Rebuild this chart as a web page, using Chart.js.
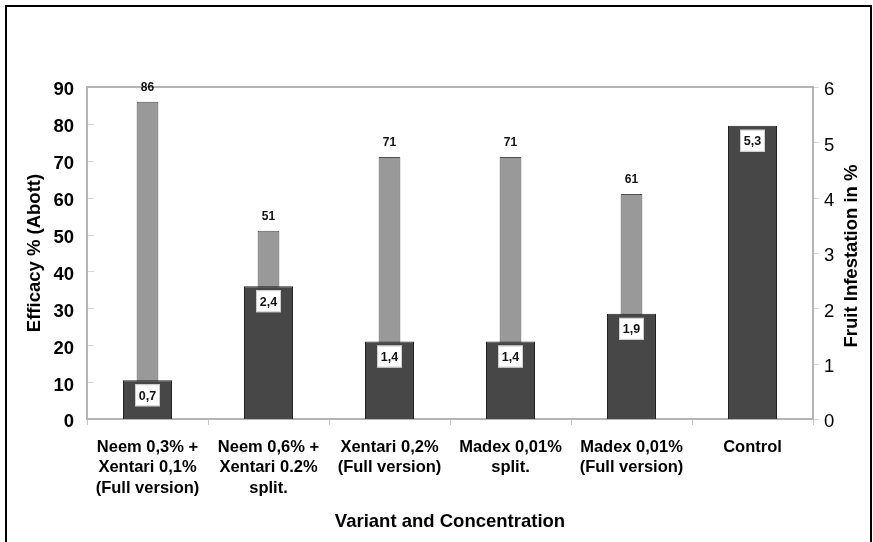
<!DOCTYPE html>
<html>
<head>
<meta charset="utf-8">
<script src="https://cdn.jsdelivr.net/npm/chart.js@4/dist/chart.umd.min.js"></script>
<style>
  html, body { margin: 0; padding: 0; background: #fff; }
  #wrap { position: relative; width: 873px; height: 542px; }
  canvas { display: block; }
</style>
</head>
<body>
<div id="wrap"><canvas id="c" width="873" height="542"></canvas></div>
<script>
// ---- data ----
const categories = [
  ["Neem 0,3% +", "Xentari 0,1%", "(Full version)"],
  ["Neem 0,6% +", "Xentari 0.2%", "split."],
  ["Xentari 0,2%", "(Full version)"],
  ["Madex 0,01%", "split."],
  ["Madex 0,01%", "(Full version)"],
  ["Control"]
];
const efficacy = [86, 51, 71, 71, 61, null];          // left axis, %
const infestation = [0.7, 2.4, 1.4, 1.4, 1.9, 5.3];   // right axis, %
const leftTicks = [0, 10, 20, 30, 40, 50, 60, 70, 80, 90];
const rightTicks = [0, 1, 2, 3, 4, 5, 6];
const xTitle = "Variant and Concentration";
const leftTitle = "Efficacy % (Abott)";
const rightTitle = "Fruit Infestation in %";

const FONT = "'Liberation Sans', Arial, Helvetica, sans-serif";

const decor = {
  id: 'decor',
  beforeDraw(chart) {
    const ctx = chart.ctx;
    ctx.save();
    ctx.fillStyle = '#fff';
    ctx.fillRect(0, 0, chart.width, chart.height);
    // outer frame
    ctx.strokeStyle = '#000';
    ctx.lineWidth = 2;
    ctx.beginPath();
    ctx.moveTo(6, 542);
    ctx.lineTo(6, 6);
    ctx.lineTo(871, 6);
    ctx.lineTo(871, 542);
    ctx.stroke();
    ctx.restore();
  },
  beforeDatasetsDraw(chart) {
    const ctx = chart.ctx, a = chart.chartArea;
    ctx.save();
    // faint tick marks
    ctx.strokeStyle = '#d8d8d8';
    ctx.lineWidth = 1;
    const ys = chart.scales.y, y1 = chart.scales.y1;
    ys.ticks.forEach(t => {
      const p = Math.round(ys.getPixelForValue(t.value)) + 0.5;
      ctx.beginPath(); ctx.moveTo(a.left, p); ctx.lineTo(a.left + 7, p); ctx.stroke();
    });
    y1.ticks.forEach(t => {
      const p = Math.round(y1.getPixelForValue(t.value)) + 0.5;
      ctx.beginPath(); ctx.moveTo(a.right, p); ctx.lineTo(a.right + 6, p); ctx.stroke();
    });
    // plot frame
    ctx.strokeStyle = '#b4b4b4';
    ctx.lineWidth = 2;
    ctx.strokeRect(a.left, a.top, a.right - a.left, a.bottom - a.top);
    ctx.restore();
  },
  afterDatasetsDraw(chart) {
    const ctx = chart.ctx;
    ctx.save();
    ctx.textAlign = 'center';
    ctx.textBaseline = 'middle';
    // efficacy labels above light bars
    const mL = chart.getDatasetMeta(1);
    mL.data.forEach((bar, i) => {
      const v = efficacy[i];
      if (v === null || v === undefined) return;
      ctx.fillStyle = '#111';
      ctx.font = "bold 12px " + FONT;
      ctx.fillText(String(v), bar.x, bar.y - 14);
    });
    // infestation labels in white boxes
    const mD = chart.getDatasetMeta(0);
    mD.data.forEach((bar, i) => {
      const v = infestation[i];
      const txt = String(v).replace('.', ',');
      const w = 25, h = 22;
      const top = bar.y + 4;
      ctx.fillStyle = '#fff';
      ctx.fillRect(bar.x - w / 2, top, w, h);
      ctx.strokeStyle = '#cfcfcf';
      ctx.lineWidth = 1;
      ctx.strokeRect(bar.x - w / 2 + 0.5, top + 0.5, w - 1, h - 1);
      ctx.fillStyle = '#111';
      ctx.font = "bold 12.5px " + FONT;
      ctx.fillText(txt, bar.x, top + h / 2 + 1);
    });
    ctx.restore();
  },
  afterDraw(chart) {
    const ctx = chart.ctx, a = chart.chartArea;
    ctx.save();
    ctx.translate(852, (a.top + a.bottom) / 2 + 3);
    ctx.rotate(-Math.PI / 2);
    ctx.textAlign = 'center';
    ctx.textBaseline = 'middle';
    ctx.fillStyle = '#000';
    ctx.font = "bold 18.5px " + FONT;
    ctx.fillText(rightTitle, 0, 0);
    ctx.restore();
  }
};

// two-line label with an empty first line: nudges the number a few px down
const shifted = v => ['', String(v)];

new Chart(document.getElementById('c'), {
  type: 'bar',
  data: {
    labels: categories,
    datasets: [
      {
        label: rightTitle,
        data: infestation,
        yAxisID: 'y1',
        backgroundColor: '#474747',
        borderColor: '#222',
        borderWidth: 1,
        grouped: false,
        categoryPercentage: 1,
        barPercentage: 0.405
      },
      {
        label: leftTitle,
        data: efficacy,
        yAxisID: 'y',
        backgroundColor: '#999999',
        borderColor: '#505050',
        borderWidth: 1,
        grouped: false,
        categoryPercentage: 1,
        barPercentage: 0.18
      }
    ]
  },
  options: {
    responsive: false,
    devicePixelRatio: 1,
    animation: false,
    layout: { padding: { left: 0, right: 0, top: 87, bottom: 0 } },
    plugins: { legend: { display: false }, tooltip: { enabled: false } },
    scales: {
      x: {
        offset: true,
        afterFit(s) { s.height = 123; },
        grid: { display: true, drawOnChartArea: false, drawTicks: true, tickLength: 6, color: '#c8c8c8', offset: true },
        border: { display: false },
        ticks: { color: '#000', padding: 12, maxRotation: 0, autoSkip: false,
                 font: { family: FONT, size: 16.5, weight: 'bold', lineHeight: 1.25 } },
        title: { display: true, text: xTitle, color: '#000',
                 padding: { top: 0, bottom: 9 },
                 font: { family: FONT, size: 18.5, weight: 'bold', lineHeight: 1.2 } }
      },
      y: {
        position: 'left',
        min: 0, max: 90,
        afterFit(s) { s.width = 87; },
        afterBuildTicks(s) { s.ticks = leftTicks.map(v => ({ value: v })); },
        grid: { display: false, drawTicks: false },
        border: { display: false },
        ticks: { color: '#000', padding: 13, callback: shifted,
                 font: { family: FONT, size: 18.5, weight: 'bold', lineHeight: 0.36 } },
        title: { display: true, text: leftTitle, color: '#000',
                 padding: { top: 24, bottom: 0 },
                 font: { family: FONT, size: 18.5, weight: 'bold', lineHeight: 1.2 } }
      },
      y1: {
        position: 'right',
        min: 0, max: 6,
        afterFit(s) { s.width = 60; },
        afterBuildTicks(s) { s.ticks = rightTicks.map(v => ({ value: v })); },
        grid: { display: false, drawTicks: false },
        border: { display: false },
        ticks: { color: '#000', padding: 11, callback: shifted,
                 font: { family: FONT, size: 18.5, weight: 'normal', lineHeight: 0.36 } },
        title: { display: false }
      }
    }
  },
  plugins: [decor]
});
</script>
</body>
</html>
